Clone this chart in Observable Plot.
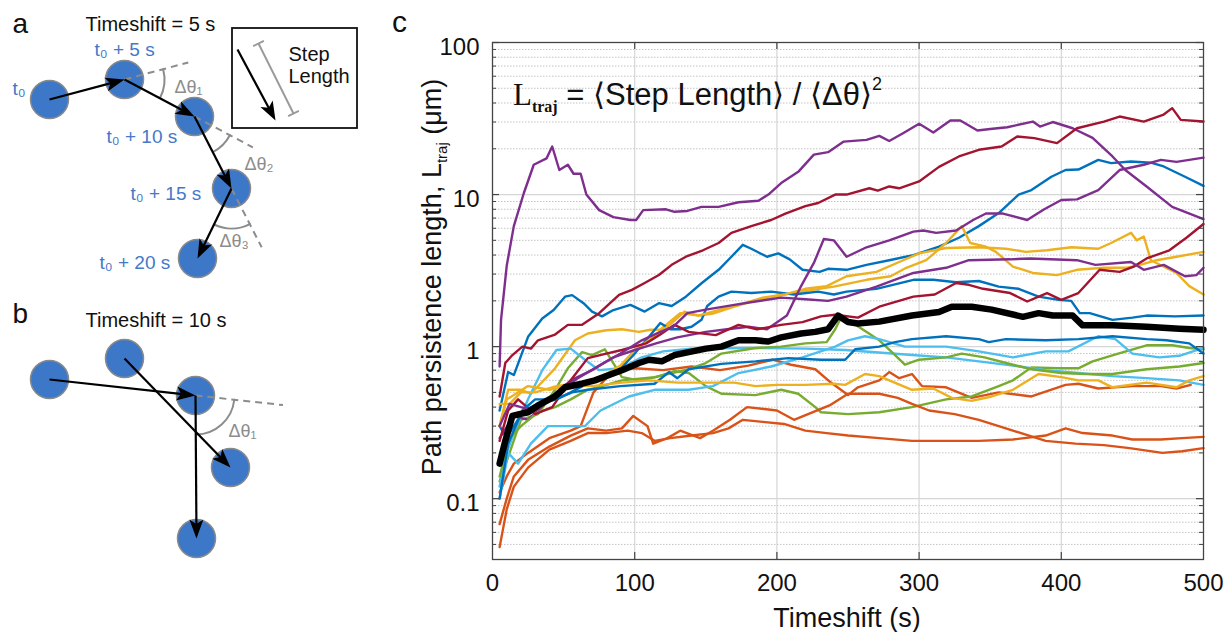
<!DOCTYPE html>
<html><head><meta charset="utf-8">
<script src="https://cdn.jsdelivr.net/npm/d3@7"></script>
<script src="https://cdn.jsdelivr.net/npm/@observablehq/plot@0.6"></script>
<style>
body{margin:0;background:#fff;}
#fig{position:relative;width:1225px;height:632px;overflow:hidden;font-family:'Liberation Sans',Arial,sans-serif;color:#111;background:#fff;}
#left{position:absolute;left:0;top:0;}
#chart{position:absolute;left:380px;top:0;}
.lbl{position:absolute;white-space:nowrap;line-height:1;}
.sub{font-size:16px;vertical-align:-7px;line-height:0;}
.sup{font-size:18px;vertical-align:15px;line-height:0;}
</style></head><body>
<div id="fig">
  <div id="left"></div>
  <div id="chart"></div>
  <div class="lbl" style="left:392px;top:7px;font-size:30px;">c</div>
  <div class="lbl" id="formula" style="left:513px;top:79px;font-size:31px;"><span style="font-family:'Liberation Serif',serif;">L<span class="sub" style="font-weight:bold;">traj</span></span> = ⟨Step Length⟩ / ⟨Δθ⟩<span class="sup">2</span></div>
  <div class="lbl" id="ylabel" style="left:432px;top:277px;font-size:27px;transform:translate(-50%,-50%) rotate(-90deg);">Path persistence length, L<span style="font-size:15px;vertical-align:-6px;line-height:0;">traj</span> (μm)</div>
  <div class="lbl" id="xlabel" style="left:847px;top:605px;font-size:27px;transform:translateX(-50%);">Timeshift (s)</div>
</div>
<script>
// ---------------- Panel c data: timeshift (s) vs path persistence length (µm) ----------------
const xTickValues = [0, 100, 200, 300, 400, 500];
const xTickLabels = ["0", "100", "200", "300", "400", "500"];
const xGrid = [100, 200, 300, 400];
const yMajor = [0.1, 1, 10, 100];
const yTickLabels = ["0.1", "1", "10", "100"];
const yMinor = [0.05,0.06,0.07,0.08,0.09, 0.2,0.3,0.4,0.5,0.6,0.7,0.8,0.9, 2,3,4,5,6,7,8,9, 20,30,40,50,60,70,80,90];

const palette = {blue:"#0072BD", orange:"#D95319", yellow:"#EDB120", purple:"#7E2F8E", green:"#77AC30", lightblue:"#4DBEEE", red:"#A2142F"};

const blue_a = [[5,0.38],[11,0.68],[15,0.65],[25,1.16],[35,1.53],[43,1.74],[51,2.13],[56,2.18],[64,1.93],[70,1.7],[77,1.58],[85,1.74],[97,1.88],[107,1.7],[117,1.93],[126,1.85],[136,2.13],[147,2.61],[159,3.2],[168,3.9],[176,4.67],[182,4.4],[193,3.9],[201,4.1],[209,3.75],[218,3.2],[230,3.1],[236,3.25],[249,3.2],[263,3.45],[279,3.7],[296,4.0],[314,4.54],[328,5.2],[342,6.2],[356,7.55],[370,10],[379,10.7],[393,13.1],[403,14.5],[412,14.6],[426,16.9],[435,16.1],[449,16.5],[463,16.2],[472,15.3],[487,13.1],[500,11.4]];
const orange_a = [[5,0.11],[10,0.14],[15,0.17],[25,0.2],[40,0.25],[55,0.28],[62,0.3],[71,0.5],[85,0.7],[100,0.72],[120,0.7],[140,0.74],[160,0.7],[180,0.75],[197,0.82],[210,0.76],[227,0.71],[238,0.58],[250,0.48],[257,0.54],[272,0.6],[279,0.68],[286,0.62],[295,0.66],[302,0.55],[319,0.54],[337,0.46],[356,0.5],[379,0.47],[403,0.56],[412,0.57],[426,0.53],[450,0.55],[470,0.55],[481,0.53],[491,0.56]];
const yellow_a = [[5,0.3],[11,0.52],[20,0.52],[27,0.49],[44,0.72],[58,1.1],[67,1.22],[80,1.28],[91,1.3],[103,1.25],[111,1.29],[118,1.29],[132,1.66],[145,1.6],[155,1.65],[170,1.83],[184,2.0],[198,2.13],[217,2.3],[240,2.48],[263,2.75],[280,2.9],[291,3.3],[305,3.7],[319,4.8],[330,6.2],[336,4.8],[347,4.54],[354,4.2],[366,3.36],[380,3.05],[397,2.95],[411,3.2],[430,3.3],[446,3.3],[453,3.4],[467,3.7],[481,3.9],[500,4.2]];
const purple_a = [[5,0.74],[6,1.5],[10,3.4],[15,6.2],[22,10.2],[29,15.7],[38,17.3],[42,20.7],[47,14.5],[53,15.7],[57,13.7],[62,13.7],[66,10],[75,7.9],[85,7.1],[97,6.8],[101,6.8],[106,7.9],[122,8.0],[128,7.7],[137,7.8],[147,8.3],[159,8.3],[173,8.9],[187,9.1],[194,10],[203,11.9],[215,14.1],[226,18.3],[236,19],[247,22.3],[263,22.9],[272,24.3],[279,22.5],[289,25.4],[300,29.2],[310,25.6],[322,30.7],[329,30.7],[341,26.4],[350,27],[362,27.7],[380,30.2],[385,28],[394,30],[408,27.3],[422,23.6],[436,17.8],[445,14.5],[460,11.3],[478,8.3],[500,6.9]];
const green_a = [[5,0.13],[12,0.2],[20,0.33],[32,0.36],[44,0.52],[53,0.72],[63,0.92],[70,0.88],[79,0.96],[91,0.63],[103,0.6],[115,0.63],[128,0.69],[138,0.67],[150,0.55],[161,0.49],[185,0.48],[203,0.52],[215,0.49],[227,0.4],[231,0.37],[250,0.36],[272,0.37],[295,0.4],[319,0.45],[337,0.47],[356,0.55],[366,0.6],[379,0.73],[398,0.72],[412,0.72],[422,0.8],[440,0.9],[460,1.02],[478,1.02],[490,0.98],[500,0.96]];
const lightblue_a = [[5,0.12],[10,0.2],[15,0.27],[25,0.45],[35,0.7],[45,0.95],[55,0.97],[65,0.82],[75,0.7],[90,0.72],[105,0.85],[120,0.93],[140,0.97],[180,0.98],[220,0.97],[248,0.95],[295,0.88],[319,0.85],[342,0.8],[366,0.75],[389,0.7],[412,0.67],[436,0.64],[460,0.62],[483,0.6],[500,0.56]];
const red_a = [[5,0.47],[9,0.78],[14,0.88],[21,1.0],[27,0.97],[32,1.1],[44,1.2],[53,1.39],[63,1.39],[75,1.66],[89,2.19],[98,2.36],[107,2.62],[117,2.96],[126,3.45],[136,3.9],[148,4.3],[159,4.8],[168,5.6],[182,6.2],[196,6.8],[206,7.5],[220,8.4],[229,8.8],[241,10],[249,10],[265,11],[271,10.6],[279,11.3],[286,11],[300,12.2],[314,15.2],[328,17.8],[342,19.7],[358,20.7],[369,24.1],[381,23.5],[397,21.8],[411,27.3],[430,30.2],[441,32.6],[458,30.2],[472,33.6],[478,37],[484,31],[500,30.2]];
const blue_b = [[5,0.3],[10,0.25],[15,0.3],[22,0.38],[32,0.42],[45,0.45],[55,0.5],[68,0.58],[80,0.66],[92,0.75],[100,0.9],[108,1.1],[118,1.43],[125,1.3],[132,1.3],[140,1.35],[147,1.5],[151,1.85],[159,2.13],[168,2.3],[182,2.25],[196,2.3],[212,2.2],[229,2.3],[240,2.2],[249,2.3],[270,2.4],[296,2.75],[310,2.75],[326,2.65],[342,2.7],[356,2.48],[370,2.4],[384,2.13],[398,2.03],[407,2.0],[413,1.66],[420,1.66],[436,1.5],[450,1.55],[460,1.6],[480,1.58],[500,1.6]];
const orange_b = [[5,0.048],[10,0.085],[15,0.12],[25,0.16],[40,0.21],[55,0.24],[67,0.27],[80,0.27],[95,0.28],[105,0.27],[114,0.24],[125,0.25],[140,0.26],[155,0.27],[166,0.29],[176,0.33],[190,0.32],[205,0.31],[220,0.28],[235,0.27],[250,0.26],[272,0.25],[295,0.24],[320,0.24],[342,0.24],[366,0.245],[389,0.26],[403,0.29],[415,0.27],[436,0.26],[450,0.245],[470,0.245],[485,0.25],[500,0.255]];
const yellow_b = [[5,0.42],[12,0.42],[20,0.5],[30,0.5],[45,0.55],[60,0.58],[75,0.62],[90,0.75],[100,0.95],[110,1.1],[125,1.4],[135,1.7],[145,1.6],[160,1.75],[175,1.9],[190,2.1],[205,2.2],[220,2.4],[235,2.5],[249,2.9],[270,3.1],[286,3.6],[300,4.1],[319,4.45],[342,4.5],[361,4.4],[375,4.2],[390,4.3],[407,4.5],[426,4.4],[435,4.8],[449,5.6],[453,5.0],[458,5.3],[463,3.7],[481,3.05],[490,2.5],[500,2.2]];
const purple_b = [[5,0.25],[15,0.35],[25,0.33],[40,0.45],[55,0.6],[70,0.7],[85,0.85],[100,0.95],[115,1.05],[130,1.15],[150,1.25],[165,1.3],[180,1.35],[193,1.3],[207,1.6],[217,2.5],[226,3.55],[233,5.1],[240,5.0],[249,3.9],[263,4.5],[279,5.0],[296,5.7],[303,5.8],[312,5.6],[326,5.8],[338,6.8],[347,7.5],[359,7.5],[376,6.8],[388,8.0],[400,9.2],[411,9.3],[426,10.7],[441,14.5],[458,15.7],[470,16.9],[481,16.4],[500,17.5]];
const green_b = [[5,0.14],[12,0.25],[20,0.3],[32,0.37],[44,0.4],[55,0.45],[67,0.52],[80,0.56],[91,0.6],[114,0.63],[138,0.71],[150,0.78],[161,0.9],[185,0.98],[203,1.0],[220,1.05],[235,1.07],[241,1.3],[245,1.55],[255,1.4],[272,1.1],[282,0.9],[290,0.76],[300,0.82],[319,0.85],[330,0.9],[346,0.85],[366,0.76],[379,0.71],[400,0.67],[417,0.66],[436,0.66],[460,0.71],[483,0.74],[500,0.78]];
const lightblue_b = [[5,0.1],[11,0.2],[18,0.17],[27,0.23],[39,0.3],[53,0.3],[65,0.3],[76,0.38],[96,0.47],[114,0.52],[138,0.52],[155,0.55],[173,0.67],[196,0.74],[218,0.85],[241,1.0],[250,1.1],[262,1.17],[272,1.12],[290,1.0],[319,1.0],[342,0.93],[366,0.85],[389,0.93],[405,0.93],[426,1.17],[438,1.12],[450,0.9],[469,0.85],[483,0.87],[500,0.98]];
const red_b = [[5,0.24],[11,0.38],[18,0.45],[30,0.36],[42,0.4],[55,0.6],[67,0.84],[80,0.9],[91,0.95],[108,1.05],[118,1.2],[128,1.39],[138,1.25],[157,1.19],[173,1.39],[186,1.3],[203,1.39],[218,1.45],[231,1.58],[241,1.62],[257,1.55],[272,1.83],[296,2.13],[311,2.2],[326,2.62],[335,2.55],[345,2.4],[364,2.25],[376,1.98],[390,2.25],[400,2.03],[412,2.25],[427,3.2],[441,3.1],[451,3.36],[460,3.8],[476,4.3],[488,5.2],[500,6.4]];
const blue_c = [[5,0.1],[11,0.23],[21,0.38],[30,0.45],[44,0.45],[56,0.5],[67,0.52],[90,0.55],[114,0.57],[124,0.68],[130,0.62],[138,0.71],[161,0.77],[185,0.8],[208,0.84],[231,0.82],[248,0.82],[255,0.96],[272,1.0],[283,1.07],[295,1.12],[319,1.17],[342,1.12],[349,1.07],[361,1.12],[389,1.1],[412,1.12],[436,1.17],[460,1.12],[474,1.1],[490,1.05],[500,0.9]];
const orange_c = [[5,0.068],[10,0.1],[15,0.14],[25,0.18],[40,0.22],[55,0.26],[67,0.29],[80,0.28],[91,0.29],[99,0.35],[109,0.3],[113,0.23],[123,0.25],[132,0.28],[146,0.25],[155,0.28],[167,0.33],[179,0.4],[200,0.38],[212,0.33],[237,0.41],[250,0.49],[272,0.49],[285,0.46],[295,0.42],[307,0.38],[325,0.36],[342,0.33],[356,0.3],[366,0.28],[389,0.24],[410,0.23],[430,0.225],[448,0.215],[471,0.2],[485,0.205],[500,0.215]];
const yellow_c = [[5,0.3],[10,0.45],[15,0.48],[25,0.55],[40,0.52],[55,0.56],[70,0.55],[91,0.58],[110,0.6],[130,0.58],[150,0.58],[170,0.58],[185,0.55],[200,0.56],[220,0.56],[240,0.57],[248,0.56],[262,0.66],[272,0.64],[279,0.6],[295,0.52],[310,0.53],[323,0.46],[337,0.44],[351,0.47],[366,0.52],[384,0.66],[400,0.63],[412,0.6],[426,0.6],[436,0.54],[460,0.58],[481,0.54],[490,0.6],[500,0.64]];
const purple_c = [[5,0.3],[12,0.42],[20,0.4],[30,0.38],[45,0.5],[60,0.62],[75,0.75],[90,0.9],[105,1.1],[118,1.25],[127,1.35],[137,1.66],[150,1.75],[170,1.88],[185,1.98],[203,2.1],[220,2.05],[236,2.0],[249,2.13],[270,2.48],[296,3.05],[319,3.3],[335,3.7],[364,3.75],[378,3.8],[411,3.7],[424,3.45],[449,3.6],[458,3.2],[472,3.45],[487,2.9],[495,2.95],[500,3.3]];
const meanTrajectory = [[5,0.17],[9,0.24],[14,0.35],[19,0.36],[25,0.37],[32,0.41],[44,0.47],[51,0.54],[63,0.57],[72,0.6],[82,0.65],[91,0.7],[103,0.78],[110,0.82],[119,0.8],[128,0.88],[138,0.92],[150,0.97],[161,1.0],[173,1.1],[185,1.1],[194,1.08],[203,1.15],[217,1.22],[227,1.25],[236,1.3],[243,1.6],[250,1.45],[257,1.42],[272,1.46],[295,1.6],[314,1.69],[323,1.83],[337,1.83],[351,1.75],[373,1.57],[384,1.66],[394,1.6],[408,1.6],[415,1.38],[436,1.38],[460,1.35],[483,1.31],[500,1.29]];

const trajectories = [
  ["blue_a", "blue", blue_a], ["orange_a", "orange", orange_a], ["yellow_a", "yellow", yellow_a],
  ["purple_a", "purple", purple_a], ["green_a", "green", green_a], ["lightblue_a", "lightblue", lightblue_a],
  ["red_a", "red", red_a], ["blue_b", "blue", blue_b], ["orange_b", "orange", orange_b],
  ["yellow_b", "yellow", yellow_b], ["purple_b", "purple", purple_b], ["green_b", "green", green_b],
  ["lightblue_b", "lightblue", lightblue_b], ["red_b", "red", red_b], ["blue_c", "blue", blue_c],
  ["orange_c", "orange", orange_c], ["yellow_c", "yellow", yellow_c], ["purple_c", "purple", purple_c]
];
const rows = trajectories.flatMap(([name, col, pts]) => pts.map(([t, v]) => ({name, color: palette[col], t, v})));

// ---------------- Panel a / b schematic data (schematic units) ----------------
const nodesA = [[4.9,9.9],[12.4,7.9],[19.4,11.6],[23.1,18.8],[19.7,25.8]];
const stepsA = [[0,1],[1,2],[2,3],[3,4]];
const turnsA = [[0,1,2],[1,2,3],[2,3,4]];
const nodeLabelsA = ["t₀", "t₀ + 5 s", "t₀ + 10 s", "t₀ + 15 s", "t₀ + 20 s"];
const nodeLabelSpotsA = [[1.2,8.8],[9.4,4.9],[10.6,13.6],[13.0,19.3],[9.9,26.2]];
const deltaLabelsA = ["Δθ₁", "Δθ₂", "Δθ₃"];
const deltaSpotsA = [[17.4,8.7],[24.4,16.4],[21.9,24.1]];

const nodesB = [[4.9,37.9],[12.4,35.8],[19.5,39.5],[23.0,46.7],[19.6,53.8]];
const stepsB = [[0,2],[1,3],[2,4]];
const turnsB = [[0,2,4]];
const deltaLabelsB = ["Δθ₁"];
const deltaSpotsB = [[22.8,43.1]];

const titles = [["a", 1.2, 2.4, 28], ["Timeshift = 5 s", 8.5, 2.45, 20], ["b", 1.2, 31.4, 28], ["Timeshift = 10 s", 8.5, 32.05, 20]];
const legendBox = [[23.2, 2.8], [35.7, 12.8]];
const legendArrow = [[23.7, 4.9], [27.5, 12.0]];
const legendBar = [[25.8, 4.3], [29.3, 11.3]];
const legendText = [["Step", 28.8, 5.45], ["Length", 28.8, 7.65]];

// ---------------- helpers ----------------
const unit = (a, b) => { const dx = b[0]-a[0], dy = b[1]-a[1], L = Math.hypot(dx, dy); return [dx/L, dy/L]; };
const headSymbol = {draw(ctx) { ctx.moveTo(0, 0); ctx.lineTo(-7, 19); ctx.lineTo(0, 14.5); ctx.lineTo(7, 19); ctx.closePath(); }};
function arrowParts(pairs) {
  return pairs.map(([a, b]) => {
    const u = unit(a, b);
    return {x1: a[0], y1: a[1], x2: b[0] - 1.3*u[0], y2: b[1] - 1.3*u[1], tx: b[0], ty: b[1], angle: Math.atan2(u[0], -u[1]) * 180 / Math.PI};
  });
}
function turnParts(nodes, turns, ext, r) {
  return turns.map(([p, c, n]) => {
    const u = unit(nodes[p], nodes[c]), v = unit(nodes[c], nodes[n]), C = nodes[c];
    const ang = Math.acos(Math.max(-1, Math.min(1, u[0]*v[0] + u[1]*v[1]))) * 180 / Math.PI;
    return {cx: C[0], cy: C[1], ex: C[0] + ext*u[0], ey: C[1] + ext*u[1],
            x1: C[0] + r*u[0], y1: C[1] + r*u[1], x2: C[0] + r*v[0], y2: C[1] + r*v[1], bend: ang/2};
  });
}
const arrowsA = arrowParts(stepsA.map(([i, j]) => [nodesA[i], nodesA[j]]));
const arrowsB = arrowParts(stepsB.map(([i, j]) => [nodesB[i], nodesB[j]]));
const boxArrow = arrowParts([legendArrow]);
const tA = turnParts(nodesA, turnsA, 6.6, 4.0);
const tB = turnParts(nodesB, turnsB, 8.8, 3.9);
const allNodes = nodesA.concat(nodesB);
const allArrows = arrowsA.concat(arrowsB, boxArrow);
const allTurns = tA.concat(tB);
const bu = unit(legendBar[0], legendBar[1]);
const caps = legendBar.map(p => ({x1: p[0] - 0.6*bu[1], y1: p[1] + 0.6*bu[0], x2: p[0] + 0.6*bu[1], y2: p[1] - 0.6*bu[0]}));

const dotFill = "#3D78C8", labelBlue = "#4479C9", gray = "#8c8c8c";

const left = Plot.plot({
  width: 380, height: 632, margin: 0,
  x: {domain: [0, 38], axis: null},
  y: {domain: [0, 63.2], reverse: true, axis: null},
  style: {fontFamily: "'Liberation Sans', Arial, sans-serif", background: "white"},
  marks: [
    Plot.rect([legendBox], {x1: d => d[0][0], y1: d => d[0][1], x2: d => d[1][0], y2: d => d[1][1], fill: "none", stroke: "#111", strokeWidth: 1.8}),
    Plot.link([legendBar], {x1: d => d[0][0], y1: d => d[0][1], x2: d => d[1][0], y2: d => d[1][1], stroke: "#9a9a9a", strokeWidth: 2}),
    Plot.link(caps, {x1: "x1", y1: "y1", x2: "x2", y2: "y2", stroke: "#9a9a9a", strokeWidth: 2}),
    Plot.text(legendText, {x: d => d[1], y: d => d[2], text: d => d[0], textAnchor: "start", fontSize: 20, fill: "#111"}),
    Plot.dot(allNodes, {x: d => d[0], y: d => d[1], r: 19, fill: dotFill, stroke: "#8a8a8a", strokeWidth: 1.5}),
    Plot.link(allTurns, {x1: "cx", y1: "cy", x2: "ex", y2: "ey", stroke: gray, strokeWidth: 2, strokeDasharray: "7,5"}),
    ...allTurns.map(t => Plot.arrow([t], {x1: "x1", y1: "y1", x2: "x2", y2: "y2", bend: t.bend, headLength: 0, stroke: gray, strokeWidth: 2})),
    Plot.link(allArrows, {x1: "x1", y1: "y1", x2: "x2", y2: "y2", stroke: "#000", strokeWidth: 2.2}),
    Plot.dot(allArrows, {x: "tx", y: "ty", rotate: "angle", symbol: headSymbol, fill: "#000", stroke: "none"}),
    Plot.text(nodeLabelsA, {x: (d, i) => nodeLabelSpotsA[i][0], y: (d, i) => nodeLabelSpotsA[i][1], text: d => d, textAnchor: "start", fontSize: 19, fill: labelBlue}),
    Plot.text(deltaLabelsA, {x: (d, i) => deltaSpotsA[i][0], y: (d, i) => deltaSpotsA[i][1], text: d => d, textAnchor: "start", fontSize: 18, fill: gray}),
    Plot.text(deltaLabelsB, {x: (d, i) => deltaSpotsB[i][0], y: (d, i) => deltaSpotsB[i][1], text: d => d, textAnchor: "start", fontSize: 18, fill: gray}),
    Plot.text(titles, {x: d => d[1], y: d => d[2], text: d => d[0], fontSize: d => d[3], textAnchor: "start", fill: "#111"})
  ]
});
document.getElementById("left").append(left);

// ---------------- Panel c chart ----------------
const W = 845, H = 632, mL = 112, mR = 22, mT = 42, mB = 73;
const pw = W - mL - mR, ph = H - mT - mB;
const chart = Plot.plot({
  width: W, height: H, marginLeft: mL, marginRight: mR, marginTop: mT, marginBottom: mB,
  x: {domain: [0, 500]},
  y: {type: "log", domain: [0.0398, 100]},
  color: {type: "identity"},
  style: {fontFamily: "'Liberation Sans', Arial, sans-serif", fontSize: "24px", color: "#111", background: "white", overflow: "visible"},
  marks: [
    Plot.ruleY(yMinor, {stroke: "#c4c4c4", strokeWidth: 1, strokeDasharray: "1.5,1.5"}),
    Plot.ruleY(yMajor, {stroke: "#d6d6d6", strokeWidth: 1.2}),
    Plot.ruleX(xGrid, {stroke: "#d6d6d6", strokeWidth: 1.2}),
    Plot.line(rows, {x: "t", y: "v", z: "name", stroke: "color", strokeWidth: 2.4, strokeLinejoin: "round"}),
    Plot.line(meanTrajectory, {x: d => d[0], y: d => d[1], stroke: "#000", strokeWidth: 6.5, strokeLinejoin: "round", strokeLinecap: "round"}),
    Plot.frame({stroke: "#444", strokeWidth: 1.3}),
    Plot.ruleX(xGrid, {insetTop: ph - 7, stroke: "#444", strokeWidth: 1.2}),
    Plot.ruleX(xGrid, {insetBottom: ph - 7, stroke: "#444", strokeWidth: 1.2}),
    Plot.ruleY(yMajor, {insetRight: pw - 7, stroke: "#444", strokeWidth: 1.2}),
    Plot.ruleY(yMajor, {insetLeft: pw - 7, stroke: "#444", strokeWidth: 1.2}),
    Plot.ruleY(yMinor, {insetRight: pw - 4, stroke: "#444", strokeWidth: 1}),
    Plot.ruleY(yMinor, {insetLeft: pw - 4, stroke: "#444", strokeWidth: 1}),
    Plot.axisX({ticks: xTickValues, tickFormat: d => xTickLabels[xTickValues.indexOf(d)], tickSize: 0, tickPadding: 14, label: null, fontSize: 24}),
    Plot.axisY({ticks: yMajor, tickFormat: d => yTickLabels[yMajor.indexOf(d)], tickSize: 0, tickPadding: 13, label: null, fontSize: 24, dy: 5})
  ]
});
document.getElementById("chart").append(chart);
</script>
</body></html>
